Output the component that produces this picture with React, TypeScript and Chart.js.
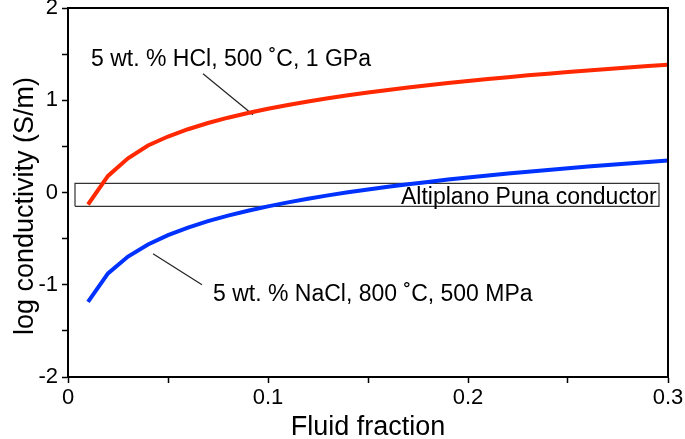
import React, { useEffect, useRef } from "react";
import { Chart, registerables } from "chart.js";

Chart.register(...registerables);

// Fluid fraction sample points
const fluidFraction = [
  0.01, 0.02, 0.03, 0.04, 0.05, 0.06, 0.07, 0.08, 0.09, 0.1,
  0.11, 0.12, 0.13, 0.14, 0.15, 0.16, 0.17, 0.18, 0.19, 0.2,
  0.21, 0.22, 0.23, 0.24, 0.25, 0.26, 0.27, 0.28, 0.29, 0.3,
];

// log conductivity (S/m), 5 wt.% HCl, 500 C, 1 GPa
const hclLogCond = [
  -0.13, 0.18, 0.37, 0.51, 0.607, 0.686, 0.753, 0.811, 0.862, 0.908,
  0.949, 0.987, 1.022, 1.054, 1.084, 1.112, 1.138, 1.163, 1.187, 1.209,
  1.23, 1.25, 1.27, 1.288, 1.306, 1.323, 1.339, 1.355, 1.37, 1.385,
];

// log conductivity (S/m), 5 wt.% NaCl, 800 C, 500 MPa
const naclLogCond = [
  -1.185, -0.877, -0.694, -0.564, -0.463, -0.381, -0.311, -0.251, -0.198, -0.15,
  -0.107, -0.068, -0.031, 0.002, 0.033, 0.062, 0.09, 0.115, 0.14, 0.163,
  0.185, 0.206, 0.226, 0.245, 0.264, 0.282, 0.299, 0.315, 0.331, 0.346,
];

// Altiplano Puna conductor box (fraction range, log conductivity range)
const conductorX = [0.0035, 0.2955];
const conductorY = [-0.15, 0.1];

// leader lines (x pairs, y pairs)
const hclLeaderX = [0.0675, 0.0925];
const hclLeaderY = [1.287, 0.843];
const naclLeaderX = [0.0425, 0.067];
const naclLeaderY = [-0.665, -1.0];

const xLabeled = [0, 0.1, 0.2, 0.3];
const yLabeled = [-2, -1, 0, 1, 2];

const labels = {
  hcl: "5 wt. % HCl, 500 \u02DAC, 1 GPa",
  nacl: "5 wt. % NaCl, 800 \u02DAC, 500 MPa",
  box: "Altiplano Puna conductor",
  xTitle: "Fluid fraction",
  yTitle: "log conductivity (S/m)",
};

const FONT = "'Liberation Sans', Arial, Helvetica, sans-serif";

const textAnchors = [
  { text: labels.hcl, x: 0.0115, y: 1.374 },
  { text: labels.nacl, x: 0.0725, y: -1.18 },
  { text: labels.box, x: 0.1665, y: -0.123 },
];

export default function App() {
  const ref = useRef<HTMLCanvasElement | null>(null);

  useEffect(() => {
    const canvas = ref.current;
    if (!canvas) return;

    const pts = (xs: number[], ys: number[]) => xs.map((x, i) => ({ x, y: ys[i] }));

    const boxPts = [
      { x: conductorX[0], y: conductorY[0] },
      { x: conductorX[1], y: conductorY[0] },
      { x: conductorX[1], y: conductorY[1] },
      { x: conductorX[0], y: conductorY[1] },
      { x: conductorX[0], y: conductorY[0] },
    ];

    const annot = {
      id: "annot",
      afterDatasetsDraw(chart: any) {
        const { ctx, chartArea, scales } = chart;
        const xs = scales.x;
        const ys = scales.y;
        ctx.save();
        ctx.strokeStyle = "#000";
        ctx.lineWidth = 2;
        ctx.beginPath();
        ctx.moveTo(chartArea.left, chartArea.top);
        ctx.lineTo(chartArea.right, chartArea.top);
        ctx.lineTo(chartArea.right, chartArea.bottom);
        ctx.stroke();
        ctx.fillStyle = "#000";
        ctx.font = `23px ${FONT}`;
        ctx.textAlign = "left";
        ctx.textBaseline = "alphabetic";
        for (const a of textAnchors) {
          ctx.fillText(a.text, xs.getPixelForValue(a.x), ys.getPixelForValue(a.y));
        }
        ctx.font = `27px ${FONT}`;
        ctx.textAlign = "center";
        ctx.fillText(labels.xTitle, (chartArea.left + chartArea.right) / 2, 435);
        ctx.translate(33, 206);
        ctx.rotate(-Math.PI / 2);
        ctx.fillText(labels.yTitle, 0, 0);
        ctx.restore();
      },
    };

    const chart = new Chart(canvas, {
      type: "scatter",
      data: {
        datasets: [
          {
            data: pts(fluidFraction, hclLogCond),
            showLine: true,
            borderColor: "rgb(255, 40, 0)",
            borderWidth: 4,
            pointRadius: 0,
            order: 0,
          },
          {
            data: pts(fluidFraction, naclLogCond),
            showLine: true,
            borderColor: "rgb(0, 50, 255)",
            borderWidth: 4,
            pointRadius: 0,
            order: 0,
          },
          {
            data: pts(hclLeaderX, hclLeaderY),
            showLine: true,
            borderColor: "#222",
            borderWidth: 1.2,
            pointRadius: 0,
            order: 1,
          },
          {
            data: pts(naclLeaderX, naclLeaderY),
            showLine: true,
            borderColor: "#222",
            borderWidth: 1.2,
            pointRadius: 0,
            order: 1,
          },
          {
            data: boxPts,
            showLine: true,
            borderColor: "#333",
            borderWidth: 1.2,
            pointRadius: 0,
            order: 2,
          },
        ],
      },
      options: {
        responsive: false,
        animation: false,
        layout: { padding: { left: 0, top: 8, right: 17, bottom: 0 } },
        plugins: {
          legend: { display: false },
          tooltip: { enabled: false },
        },
        scales: {
          x: {
            type: "linear",
            min: 0,
            max: 0.3,
            afterFit: (s: any) => {
              s.height = 62;
              s.paddingLeft = 0;
              s.paddingRight = 0;
            },
            border: { display: true, color: "#000", width: 2 },
            grid: {
              drawOnChartArea: false,
              drawTicks: true,
              tickLength: 6,
              tickWidth: 1.5,
              color: "#000",
            },
            ticks: {
              stepSize: 0.05,
              padding: 2,
              color: "#000",
              font: { family: FONT, size: 22 },
              maxRotation: 0,
              autoSkip: false,
              callback: (v: any) => {
                const n = Number(v);
                const hit = xLabeled.find((t) => Math.abs(t - n) < 1e-6);
                return hit === undefined ? "" : String(hit);
              },
            },
          },
          y: {
            type: "linear",
            min: -2,
            max: 2,
            afterFit: (s: any) => {
              s.width = 68;
              s.paddingTop = 0;
              s.paddingBottom = 0;
            },
            border: { display: true, color: "#000", width: 2 },
            grid: {
              drawOnChartArea: false,
              drawTicks: true,
              tickLength: 6,
              tickWidth: 1.5,
              color: "#000",
            },
            ticks: {
              stepSize: 0.5,
              padding: 4,
              color: "#000",
              font: { family: FONT, size: 22 },
              autoSkip: false,
              callback: (v: any) => {
                const n = Number(v);
                const hit = yLabeled.find((t) => Math.abs(t - n) < 1e-6);
                return hit === undefined ? "" : String(hit);
              },
            },
          },
        },
      },
      plugins: [annot],
    });

    return () => chart.destroy();
  }, []);

  return (
    <div style={{ position: "fixed", left: 0, top: 0, width: 685, height: 439, background: "#fff" }}>
      <canvas ref={ref} width={685} height={439} style={{ display: "block" }} />
    </div>
  );
}
